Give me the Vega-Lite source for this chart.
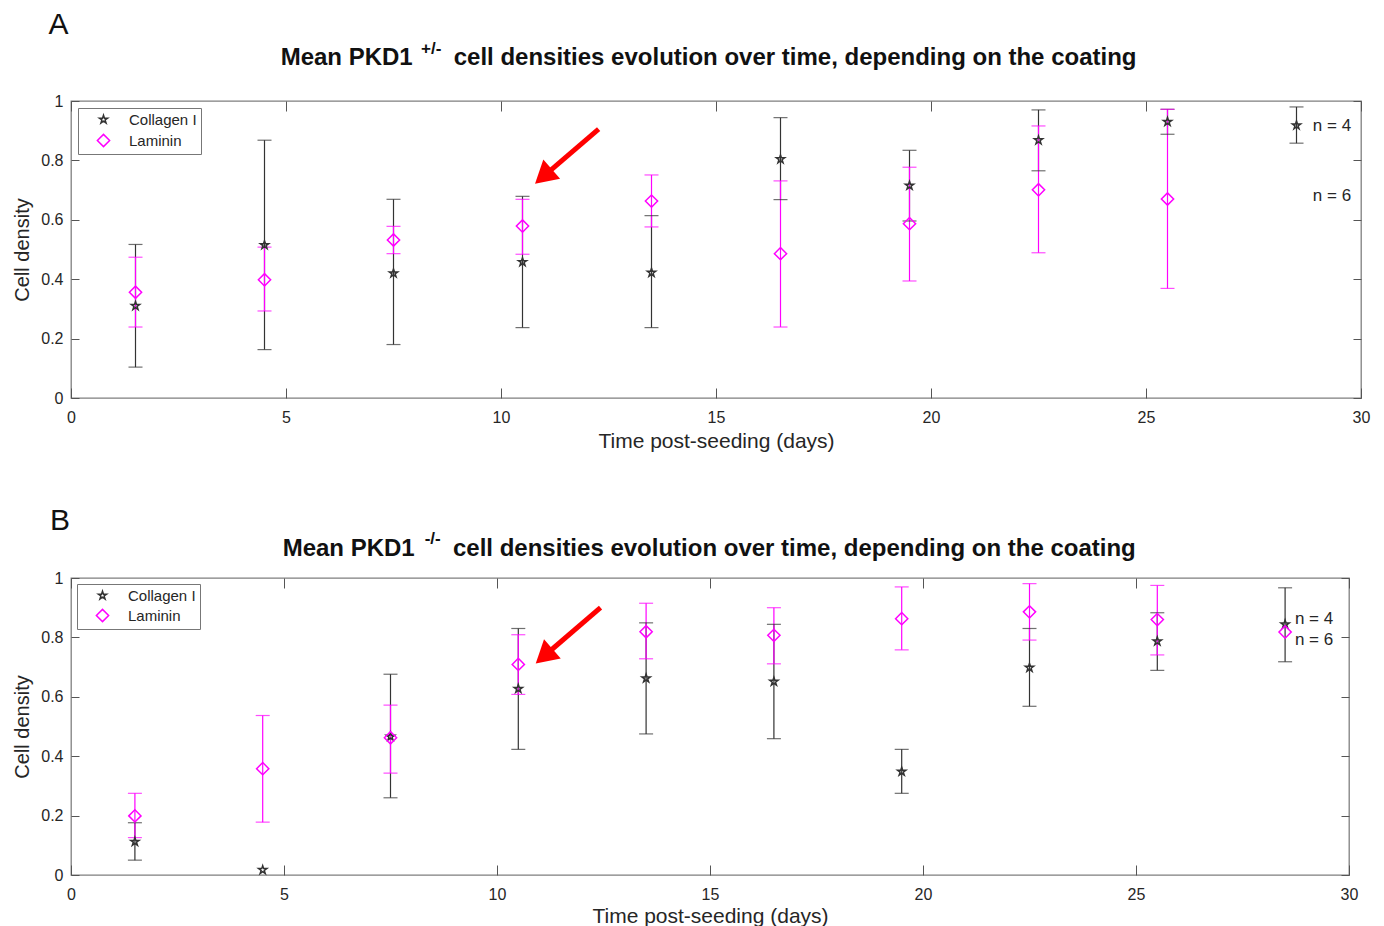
{
  "$schema": "https://vega.github.io/schema/vega-lite/v6.json",
  "background": "white",
  "padding": {"left": 12, "top": 9, "right": 10, "bottom": 0},
  "config": {"font": "Liberation Sans", "view": {"stroke": "#7f7f7f", "strokeWidth": 1.3}},
  "datasets": {
    "pts": [
      {"panel": "A", "coating": "Collagen I", "day": 1.5, "mean": 0.31, "lo": 0.104, "hi": 0.517},
      {"panel": "A", "coating": "Collagen I", "day": 4.5, "mean": 0.515, "lo": 0.163, "hi": 0.868},
      {"panel": "A", "coating": "Collagen I", "day": 7.5, "mean": 0.42, "lo": 0.18, "hi": 0.669},
      {"panel": "A", "coating": "Collagen I", "day": 10.5, "mean": 0.458, "lo": 0.237, "hi": 0.679},
      {"panel": "A", "coating": "Collagen I", "day": 13.5, "mean": 0.422, "lo": 0.237, "hi": 0.614},
      {"panel": "A", "coating": "Collagen I", "day": 16.5, "mean": 0.804, "lo": 0.668, "hi": 0.944},
      {"panel": "A", "coating": "Collagen I", "day": 19.5, "mean": 0.715, "lo": 0.596, "hi": 0.834},
      {"panel": "A", "coating": "Collagen I", "day": 22.5, "mean": 0.868, "lo": 0.765, "hi": 0.97},
      {"panel": "A", "coating": "Collagen I", "day": 25.5, "mean": 0.93, "lo": 0.888, "hi": 0.972},
      {"panel": "A", "coating": "Collagen I", "day": 28.5, "mean": 0.918, "lo": 0.858, "hi": 0.98},
      {"panel": "A", "coating": "Laminin", "day": 1.5, "mean": 0.356, "lo": 0.239, "hi": 0.474},
      {"panel": "A", "coating": "Laminin", "day": 4.5, "mean": 0.398, "lo": 0.293, "hi": 0.508},
      {"panel": "A", "coating": "Laminin", "day": 7.5, "mean": 0.532, "lo": 0.486, "hi": 0.578},
      {"panel": "A", "coating": "Laminin", "day": 10.5, "mean": 0.579, "lo": 0.484, "hi": 0.669},
      {"panel": "A", "coating": "Laminin", "day": 13.5, "mean": 0.663, "lo": 0.576, "hi": 0.751},
      {"panel": "A", "coating": "Laminin", "day": 16.5, "mean": 0.486, "lo": 0.239, "hi": 0.731},
      {"panel": "A", "coating": "Laminin", "day": 19.5, "mean": 0.587, "lo": 0.394, "hi": 0.777},
      {"panel": "A", "coating": "Laminin", "day": 22.5, "mean": 0.701, "lo": 0.489, "hi": 0.916},
      {"panel": "A", "coating": "Laminin", "day": 25.5, "mean": 0.67, "lo": 0.369, "hi": 0.972},
      {"panel": "B", "coating": "Collagen I", "day": 1.5, "mean": 0.112, "lo": 0.05, "hi": 0.176},
      {"panel": "B", "coating": "Collagen I", "day": 4.5, "mean": 0.017, "lo": null, "hi": null},
      {"panel": "B", "coating": "Collagen I", "day": 7.5, "mean": 0.466, "lo": 0.26, "hi": 0.676},
      {"panel": "B", "coating": "Collagen I", "day": 10.5, "mean": 0.627, "lo": 0.423, "hi": 0.83},
      {"panel": "B", "coating": "Collagen I", "day": 13.5, "mean": 0.662, "lo": 0.475, "hi": 0.849},
      {"panel": "B", "coating": "Collagen I", "day": 16.5, "mean": 0.651, "lo": 0.459, "hi": 0.844},
      {"panel": "B", "coating": "Collagen I", "day": 19.5, "mean": 0.348, "lo": 0.275, "hi": 0.423},
      {"panel": "B", "coating": "Collagen I", "day": 22.5, "mean": 0.698, "lo": 0.568, "hi": 0.83},
      {"panel": "B", "coating": "Collagen I", "day": 25.5, "mean": 0.787, "lo": 0.689, "hi": 0.883},
      {"panel": "B", "coating": "Collagen I", "day": 28.5, "mean": 0.844, "lo": 0.718, "hi": 0.967},
      {"panel": "B", "coating": "Laminin", "day": 1.5, "mean": 0.199, "lo": 0.126, "hi": 0.275},
      {"panel": "B", "coating": "Laminin", "day": 4.5, "mean": 0.358, "lo": 0.178, "hi": 0.537},
      {"panel": "B", "coating": "Laminin", "day": 7.5, "mean": 0.462, "lo": 0.343, "hi": 0.572},
      {"panel": "B", "coating": "Laminin", "day": 10.5, "mean": 0.709, "lo": 0.608, "hi": 0.809},
      {"panel": "B", "coating": "Laminin", "day": 13.5, "mean": 0.819, "lo": 0.728, "hi": 0.915},
      {"panel": "B", "coating": "Laminin", "day": 16.5, "mean": 0.807, "lo": 0.711, "hi": 0.9},
      {"panel": "B", "coating": "Laminin", "day": 19.5, "mean": 0.863, "lo": 0.758, "hi": 0.97},
      {"panel": "B", "coating": "Laminin", "day": 22.5, "mean": 0.886, "lo": 0.791, "hi": 0.981},
      {"panel": "B", "coating": "Laminin", "day": 25.5, "mean": 0.86, "lo": 0.741, "hi": 0.975},
      {"panel": "B", "coating": "Laminin", "day": 28.5, "mean": 0.818, "lo": null, "hi": null}
    ],
    "notes": [
      {"panel": "A", "label": "n = 4", "x": 28.88, "y": 0.916},
      {"panel": "A", "label": "n = 6", "x": 28.88, "y": 0.68},
      {"panel": "B", "label": "n = 4", "x": 28.73, "y": 0.863},
      {"panel": "B", "label": "n = 6", "x": 28.73, "y": 0.791}
    ],
    "letters": [
      {"panel": "A", "label": "A", "x": -0.29, "y": 1.2246},
      {"panel": "B", "label": "B", "x": -0.258, "y": 1.1616}
    ],
    "titles": [
      {"panel": "A", "part": "main", "text": "Mean PKD1", "x": 7.947, "y": 1.121},
      {"panel": "A", "part": "sup", "text": "+/-", "x": 8.14, "y": 1.157},
      {"panel": "A", "part": "rest", "text": "cell densities evolution over time, depending on the coating", "x": 8.9, "y": 1.121},
      {"panel": "B", "part": "main", "text": "Mean PKD1", "x": 8.068, "y": 1.074},
      {"panel": "B", "part": "sup", "text": "-/-", "x": 8.303, "y": 1.113},
      {"panel": "B", "part": "rest", "text": "cell densities evolution over time, depending on the coating", "x": 8.967, "y": 1.074}
    ],
    "arrows": [
      {"panel": "A", "x": 12.27, "y": 0.905, "hx": 11.05, "hy": 0.754},
      {"panel": "B", "x": 12.43, "y": 0.9, "hx": 11.17, "hy": 0.745}
    ]
  },
  "spacing": 53,
  "resolve": {"scale": {"color": "independent", "shape": "independent", "size": "independent", "x": "independent", "y": "independent"}},
  "vconcat": [
    {
      "width": 1290,
      "height": 297,
      "resolve": {"axis": {"x": "independent", "y": "independent"}},
      "layer": [
        {
          "data": {"name": "pts"},
          "transform": [{"filter": "datum.panel === 'A' && isValid(datum.lo)"}],
          "mark": {"type": "rule", "strokeWidth": 1.2},
          "encoding": {
            "x": {"field": "day", "type": "quantitative", "scale": {"domain": [0, 30], "nice": false, "zero": false},
                  "axis": {"orient": "bottom", "values": [0, 5, 10, 15, 20, 25, 30], "labelFlush": false, "tickSize": -10, "tickColor": "#555555", "domain": false, "grid": false, "labelPadding": 21, "labelFontSize": 16, "labelColor": "#262626", "title": "Time post-seeding (days)", "titleFontSize": 21, "titleFontWeight": "normal", "titleColor": "#262626", "titlePadding": 5}},
            "y": {"field": "lo", "type": "quantitative", "scale": {"domain": [0, 1], "nice": false},
                  "axis": {"orient": "left", "values": [0, 0.2, 0.4, 0.6, 0.8, 1], "labelFlush": false, "labelExpr": "datum.value == 0 ? '0' : datum.value == 1 ? '1' : format(datum.value, '.1f')", "tickSize": -8, "tickColor": "#555555", "domain": false, "grid": false, "labelPadding": 16, "labelFontSize": 16, "labelColor": "#262626", "title": "Cell density", "titleFontSize": 20, "titleFontWeight": "normal", "titleColor": "#262626", "titlePadding": 8}},
            "y2": {"field": "hi"},
            "stroke": {"field": "coating", "type": "nominal", "scale": {"domain": ["Collagen I", "Laminin"], "range": ["#333333", "#ff00ff"]}, "legend": null}
          }
        },
        {
          "data": {"name": "pts"},
          "transform": [{"filter": "datum.panel === 'A' && isValid(datum.lo)"}],
          "mark": {"type": "tick", "orient": "horizontal", "size": 14, "thickness": 1.2},
          "encoding": {
            "x": {"field": "day", "type": "quantitative", "axis": {"orient": "top", "values": [0, 5, 10, 15, 20, 25, 30], "tickSize": -10, "tickColor": "#555555", "domain": false, "grid": false, "labels": false, "title": null}},
            "y": {"field": "lo", "type": "quantitative", "axis": {"orient": "right", "values": [0, 0.2, 0.4, 0.6, 0.8, 1], "tickSize": -8, "tickColor": "#555555", "domain": false, "grid": false, "labels": false, "title": null}},
            "fill": {"field": "coating", "type": "nominal", "scale": {"domain": ["Collagen I", "Laminin"], "range": ["#333333", "#ff00ff"]}, "legend": null}
          }
        },
        {
          "data": {"name": "pts"},
          "transform": [{"filter": "datum.panel === 'A' && isValid(datum.hi)"}],
          "mark": {"type": "tick", "orient": "horizontal", "size": 14, "thickness": 1.2},
          "encoding": {
            "x": {"field": "day", "type": "quantitative", "axis": null},
            "y": {"field": "hi", "type": "quantitative", "axis": null},
            "fill": {"field": "coating", "type": "nominal", "legend": null}
          }
        },
        {
          "data": {"name": "pts"},
          "transform": [{"filter": "datum.panel === 'A'"}],
          "mark": {"type": "point", "filled": false, "strokeWidth": 1.5, "opacity": 1},
          "encoding": {
            "x": {"field": "day", "type": "quantitative", "axis": null},
            "y": {"field": "mean", "type": "quantitative", "axis": null},
            "color": {"field": "coating", "type": "nominal", "scale": {"domain": ["Collagen I", "Laminin"], "range": ["#333333", "#ff00ff"]}, "legend": {"orient": "top-left", "offset": 7, "title": null, "labelFontSize": 15, "labelColor": "#262626", "strokeColor": "#777777", "fillColor": "white", "padding": 4, "rowPadding": 3, "symbolOffset": 14, "symbolStrokeWidth": 1.5, "symbolSize": 110, "labelOffset": 18}},
            "shape": {"field": "coating", "type": "nominal", "scale": {"domain": ["Collagen I", "Laminin"], "range": ["M0,-1L0.2245,-0.309L0.951,-0.309L0.363,0.118L0.588,0.809L0,0.382L-0.588,0.809L-0.363,0.118L-0.951,-0.309L-0.2245,-0.309Z", "diamond"]}},
            "size": {"field": "coating", "type": "nominal", "scale": {"domain": ["Collagen I", "Laminin"], "range": [75, 150]}, "legend": null}
          }
        },
        {
          "data": {"name": "notes"},
          "transform": [{"filter": "datum.panel === 'A'"}],
          "mark": {"type": "text", "align": "left", "baseline": "middle", "fontSize": 17, "color": "#262626"},
          "encoding": {
            "x": {"field": "x", "type": "quantitative", "axis": null},
            "y": {"field": "y", "type": "quantitative", "axis": null},
            "text": {"field": "label"}
          }
        },
        {
          "data": {"name": "letters"},
          "transform": [{"filter": "datum.panel === 'A'"}],
          "mark": {"type": "text", "align": "center", "baseline": "alphabetic", "fontSize": 30, "color": "#111111"},
          "encoding": {
            "x": {"field": "x", "type": "quantitative", "axis": null},
            "y": {"field": "y", "type": "quantitative", "axis": null},
            "text": {"field": "label"}
          }
        },
        {
          "data": {"name": "titles"},
          "transform": [{"filter": "datum.panel === 'A' && datum.part === 'main'"}],
          "mark": {"type": "text", "align": "right", "baseline": "alphabetic", "fontSize": 24, "fontWeight": "bold", "color": "#111111"},
          "encoding": {
            "x": {"field": "x", "type": "quantitative", "axis": null},
            "y": {"field": "y", "type": "quantitative", "axis": null},
            "text": {"field": "text"}
          }
        },
        {
          "data": {"name": "titles"},
          "transform": [{"filter": "datum.panel === 'A' && datum.part === 'sup'"}],
          "mark": {"type": "text", "align": "left", "baseline": "alphabetic", "fontSize": 17, "fontWeight": "bold", "color": "#111111"},
          "encoding": {
            "x": {"field": "x", "type": "quantitative", "axis": null},
            "y": {"field": "y", "type": "quantitative", "axis": null},
            "text": {"field": "text"}
          }
        },
        {
          "data": {"name": "titles"},
          "transform": [{"filter": "datum.panel === 'A' && datum.part === 'rest'"}],
          "mark": {"type": "text", "align": "left", "baseline": "alphabetic", "fontSize": 24, "fontWeight": "bold", "color": "#111111"},
          "encoding": {
            "x": {"field": "x", "type": "quantitative", "axis": null},
            "y": {"field": "y", "type": "quantitative", "axis": null},
            "text": {"field": "text"}
          }
        },
        {
          "data": {"name": "arrows"},
          "transform": [{"filter": "datum.panel === 'A'"}],
          "mark": {"type": "rule", "color": "#ff0000", "strokeWidth": 5},
          "encoding": {
            "x": {"field": "x", "type": "quantitative", "axis": null},
            "y": {"field": "y", "type": "quantitative", "axis": null},
            "x2": {"field": "hx"},
            "y2": {"field": "hy"}
          }
        },
        {
          "data": {"name": "arrows"},
          "transform": [{"filter": "datum.panel === 'A'"}],
          "mark": {"type": "point", "shape": "triangle", "filled": true, "color": "#ff0000", "size": 650, "angle": 229, "opacity": 1},
          "encoding": {
            "x": {"field": "hx", "type": "quantitative", "axis": null},
            "y": {"field": "hy", "type": "quantitative", "axis": null}
          }
        }
      ]
    },
    {
      "width": 1278,
      "height": 297,
      "resolve": {"axis": {"x": "independent", "y": "independent"}},
      "layer": [
        {
          "data": {"name": "pts"},
          "transform": [{"filter": "datum.panel === 'B' && isValid(datum.lo)"}],
          "mark": {"type": "rule", "strokeWidth": 1.2},
          "encoding": {
            "x": {"field": "day", "type": "quantitative", "scale": {"domain": [0, 30], "nice": false, "zero": false},
                  "axis": {"orient": "bottom", "values": [0, 5, 10, 15, 20, 25, 30], "labelFlush": false, "tickSize": -10, "tickColor": "#555555", "domain": false, "grid": false, "labelPadding": 21, "labelFontSize": 16, "labelColor": "#262626", "title": "Time post-seeding (days)", "titleFontSize": 21, "titleFontWeight": "normal", "titleColor": "#262626", "titlePadding": 3}},
            "y": {"field": "lo", "type": "quantitative", "scale": {"domain": [0, 1], "nice": false},
                  "axis": {"orient": "left", "values": [0, 0.2, 0.4, 0.6, 0.8, 1], "labelFlush": false, "labelExpr": "datum.value == 0 ? '0' : datum.value == 1 ? '1' : format(datum.value, '.1f')", "tickSize": -8, "tickColor": "#555555", "domain": false, "grid": false, "labelPadding": 16, "labelFontSize": 16, "labelColor": "#262626", "title": "Cell density", "titleFontSize": 20, "titleFontWeight": "normal", "titleColor": "#262626", "titlePadding": 8}},
            "y2": {"field": "hi"},
            "stroke": {"field": "coating", "type": "nominal", "scale": {"domain": ["Collagen I", "Laminin"], "range": ["#333333", "#ff00ff"]}, "legend": null}
          }
        },
        {
          "data": {"name": "pts"},
          "transform": [{"filter": "datum.panel === 'B' && isValid(datum.lo)"}],
          "mark": {"type": "tick", "orient": "horizontal", "size": 14, "thickness": 1.2},
          "encoding": {
            "x": {"field": "day", "type": "quantitative", "axis": {"orient": "top", "values": [0, 5, 10, 15, 20, 25, 30], "tickSize": -10, "tickColor": "#555555", "domain": false, "grid": false, "labels": false, "title": null}},
            "y": {"field": "lo", "type": "quantitative", "axis": {"orient": "right", "values": [0, 0.2, 0.4, 0.6, 0.8, 1], "tickSize": -8, "tickColor": "#555555", "domain": false, "grid": false, "labels": false, "title": null}},
            "fill": {"field": "coating", "type": "nominal", "scale": {"domain": ["Collagen I", "Laminin"], "range": ["#333333", "#ff00ff"]}, "legend": null}
          }
        },
        {
          "data": {"name": "pts"},
          "transform": [{"filter": "datum.panel === 'B' && isValid(datum.hi)"}],
          "mark": {"type": "tick", "orient": "horizontal", "size": 14, "thickness": 1.2},
          "encoding": {
            "x": {"field": "day", "type": "quantitative", "axis": null},
            "y": {"field": "hi", "type": "quantitative", "axis": null},
            "fill": {"field": "coating", "type": "nominal", "legend": null}
          }
        },
        {
          "data": {"name": "pts"},
          "transform": [{"filter": "datum.panel === 'B'"}],
          "mark": {"type": "point", "filled": false, "strokeWidth": 1.5, "opacity": 1},
          "encoding": {
            "x": {"field": "day", "type": "quantitative", "axis": null},
            "y": {"field": "mean", "type": "quantitative", "axis": null},
            "color": {"field": "coating", "type": "nominal", "scale": {"domain": ["Collagen I", "Laminin"], "range": ["#333333", "#ff00ff"]}, "legend": {"orient": "top-left", "offset": 6, "title": null, "labelFontSize": 15, "labelColor": "#262626", "strokeColor": "#777777", "fillColor": "white", "padding": 4, "rowPadding": 2, "symbolOffset": 14, "symbolStrokeWidth": 1.5, "symbolSize": 110, "labelOffset": 18}},
            "shape": {"field": "coating", "type": "nominal", "scale": {"domain": ["Collagen I", "Laminin"], "range": ["M0,-1L0.2245,-0.309L0.951,-0.309L0.363,0.118L0.588,0.809L0,0.382L-0.588,0.809L-0.363,0.118L-0.951,-0.309L-0.2245,-0.309Z", "diamond"]}},
            "size": {"field": "coating", "type": "nominal", "scale": {"domain": ["Collagen I", "Laminin"], "range": [75, 150]}, "legend": null}
          }
        },
        {
          "data": {"name": "notes"},
          "transform": [{"filter": "datum.panel === 'B'"}],
          "mark": {"type": "text", "align": "left", "baseline": "middle", "fontSize": 17, "color": "#262626"},
          "encoding": {
            "x": {"field": "x", "type": "quantitative", "axis": null},
            "y": {"field": "y", "type": "quantitative", "axis": null},
            "text": {"field": "label"}
          }
        },
        {
          "data": {"name": "letters"},
          "transform": [{"filter": "datum.panel === 'B'"}],
          "mark": {"type": "text", "align": "center", "baseline": "alphabetic", "fontSize": 30, "color": "#111111"},
          "encoding": {
            "x": {"field": "x", "type": "quantitative", "axis": null},
            "y": {"field": "y", "type": "quantitative", "axis": null},
            "text": {"field": "label"}
          }
        },
        {
          "data": {"name": "titles"},
          "transform": [{"filter": "datum.panel === 'B' && datum.part === 'main'"}],
          "mark": {"type": "text", "align": "right", "baseline": "alphabetic", "fontSize": 24, "fontWeight": "bold", "color": "#111111"},
          "encoding": {
            "x": {"field": "x", "type": "quantitative", "axis": null},
            "y": {"field": "y", "type": "quantitative", "axis": null},
            "text": {"field": "text"}
          }
        },
        {
          "data": {"name": "titles"},
          "transform": [{"filter": "datum.panel === 'B' && datum.part === 'sup'"}],
          "mark": {"type": "text", "align": "left", "baseline": "alphabetic", "fontSize": 17, "fontWeight": "bold", "color": "#111111"},
          "encoding": {
            "x": {"field": "x", "type": "quantitative", "axis": null},
            "y": {"field": "y", "type": "quantitative", "axis": null},
            "text": {"field": "text"}
          }
        },
        {
          "data": {"name": "titles"},
          "transform": [{"filter": "datum.panel === 'B' && datum.part === 'rest'"}],
          "mark": {"type": "text", "align": "left", "baseline": "alphabetic", "fontSize": 24, "fontWeight": "bold", "color": "#111111"},
          "encoding": {
            "x": {"field": "x", "type": "quantitative", "axis": null},
            "y": {"field": "y", "type": "quantitative", "axis": null},
            "text": {"field": "text"}
          }
        },
        {
          "data": {"name": "arrows"},
          "transform": [{"filter": "datum.panel === 'B'"}],
          "mark": {"type": "rule", "color": "#ff0000", "strokeWidth": 5},
          "encoding": {
            "x": {"field": "x", "type": "quantitative", "axis": null},
            "y": {"field": "y", "type": "quantitative", "axis": null},
            "x2": {"field": "hx"},
            "y2": {"field": "hy"}
          }
        },
        {
          "data": {"name": "arrows"},
          "transform": [{"filter": "datum.panel === 'B'"}],
          "mark": {"type": "point", "shape": "triangle", "filled": true, "color": "#ff0000", "size": 650, "angle": 229, "opacity": 1},
          "encoding": {
            "x": {"field": "hx", "type": "quantitative", "axis": null},
            "y": {"field": "hy", "type": "quantitative", "axis": null}
          }
        }
      ]
    }
  ]
}
